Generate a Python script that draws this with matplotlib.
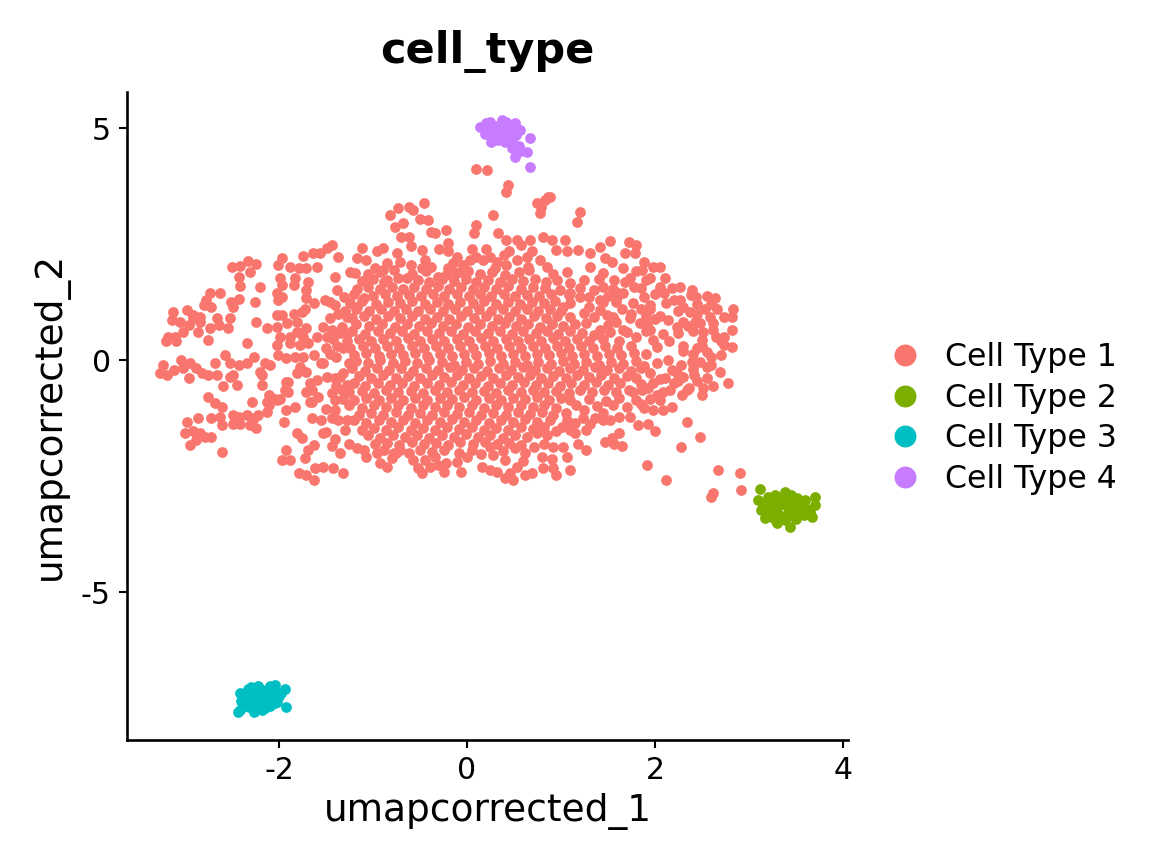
import matplotlib
matplotlib.use("Agg")
import matplotlib.pyplot as plt
from matplotlib.lines import Line2D
import numpy as np

# ---------------- data ----------------
CATEGORIES = ["Cell Type 1", "Cell Type 2", "Cell Type 3", "Cell Type 4"]
COLORS = ["#F8766D", "#7CAE00", "#00BFC4", "#C77CFF"]
X_TICKS = [-2, 0, 2, 4]
Y_TICKS = [-5, 0, 5]
X_LABEL = "umapcorrected_1"
Y_LABEL = "umapcorrected_2"
TITLE = "cell_type"

CELL_TYPE_1 = [
    # upper-left region
    (-1.44,2.48),(-1.49,2.41),(-1.64,2.31),(-1.56,2.31),(-1.74,2.24),(-1.37,2.23),
    (-2.50,2.01),(-2.41,2.03),(-2.33,2.14),(-2.24,2.08),(-2.31,1.90),(-2.43,1.78),(-2.41,1.59),
    (-1.97,2.19),(-2.01,2.05),(-1.88,2.01),(-1.79,1.98),(-1.71,1.98),(-1.60,2.01),
    (-1.99,1.76),(-1.83,1.76),(-1.69,1.69),(-1.71,1.51),(-1.97,1.62),(-1.84,1.62),
    (-1.40,1.80),(-1.38,1.51),(-1.31,1.36),(-1.24,1.90),(-2.20,1.58),(-2.26,1.24),
    (-2.51,1.26),(-2.43,1.31),(-2.49,1.15),(-2.73,1.44),(-2.63,1.44),(-2.78,1.29),(-2.80,1.19),
    (-2.72,1.15),(-2.84,0.93),(-2.91,0.97),(-2.98,1.08),(-3.13,1.04),(-3.14,0.86),(-3.05,0.83),
    (-2.96,0.75),(-2.84,0.83),(-2.91,0.90),(-3.18,0.50),(-3.11,0.50),(-3.02,0.61),(-2.86,0.61),
    (-2.73,0.68),(-2.64,0.75),(-2.66,0.90),(-2.52,0.90),(-2.54,0.68),(-2.24,0.83),
    (-2.02,0.97),(-1.97,0.97),(-1.84,1.00),(-1.75,1.04),(-1.81,0.83),(-1.91,0.79),(-2.02,0.72),
    (-2.13,0.68),(-1.99,0.50),(-1.81,0.61),(-1.71,0.68),(-1.74,0.50),(-1.88,0.50),
    (-2.02,1.44),(-1.97,1.36),(-2.01,1.29),(-1.71,1.33),(-1.63,1.22),(-1.72,1.11),
    (-1.46,1.26),(-1.51,1.29),(-1.40,1.19),(-1.37,1.00),(-1.46,0.90),(-1.53,0.72),(-1.44,0.65),
    (-1.33,0.72),(-1.28,0.93),(-1.28,0.57),(-1.60,0.50),(-1.49,0.50),
    # lower-left region
    (-3.23,-0.11),(-3.27,-0.29),(-3.19,-0.32),(-3.12,-0.22),(-3.04,0.00),(-3.02,-0.18),
    (-2.95,-0.07),(-2.96,-0.39),(-2.88,-0.18),(-2.82,-0.29),(-2.75,-0.32),
    (-2.68,-0.07),(-2.57,0.11),(-2.52,-0.07),(-2.43,-0.11),(-2.34,-0.07),(-2.27,0.07),
    (-2.66,-0.32),(-2.52,-0.36),(-2.59,-0.57),(-2.45,-0.54),(-2.49,-0.32),
    (-2.34,0.36),(-2.75,-0.79),(-2.68,-0.93),(-2.61,-1.01),(-2.29,-0.90),(-2.13,-0.90),
    (-2.11,-0.75),(-2.04,-0.83),(-1.99,-0.83),(-2.15,-0.07),(-2.10,-0.11),(-2.18,-0.32),
    (-2.18,-0.54),(-2.13,-1.11),
    (-2.98,-1.33),(-2.86,-1.26),(-2.72,-1.26),(-2.63,-1.22),(-2.61,-1.40),(-2.49,-1.19),
    (-2.43,-1.22),(-2.34,-1.19),(-2.27,-1.26),(-2.22,-1.19),(-2.24,-1.47),(-2.31,-1.40),
    (-2.41,-1.37),(-2.49,-1.37),
    (-3.00,-1.58),(-2.95,-1.83),(-2.88,-1.72),(-2.84,-1.58),(-2.79,-1.65),(-2.72,-1.65),
    (-2.91,-1.54),(-2.61,-1.98),
    (-1.92,-1.94),(-1.97,-2.16),(-1.88,-2.16),(-1.79,-2.44),(-1.71,-2.48),(-1.62,-2.33),
    (-1.53,-2.30),(-1.43,-2.33),(-1.32,-2.44),(-1.63,-2.59),(-1.72,-2.12),(-1.69,-1.94),
    (-1.63,-1.83),(-1.44,-1.85),
    (-1.95,-1.33),(-1.92,-1.08),(-1.83,-1.01),(-1.81,-1.58),(-1.76,-1.69),(-1.65,-1.26),
    (-1.55,-1.29),(-1.53,-1.58),(-1.65,-0.90),(-1.94,-0.65),(-1.90,-0.47),(-2.02,-0.86),
    (-2.10,-0.79),(-2.11,-0.97),(-2.20,-0.25),
    (-2.02,0.32),(-1.88,0.36),(-1.78,0.32),(-1.69,0.36),(-2.01,0.11),(-1.92,0.04),(-1.83,0.07),
    (-1.74,0.07),(-1.63,0.11),(-1.78,-0.14),(-1.71,-0.25),(-1.81,-0.29),(-1.67,-0.50),
    (-1.60,-0.43),(-1.53,-0.07),(-1.49,-0.36),(-1.40,-0.39),(-1.35,-0.36),(-1.39,-0.57),
    (-1.33,-0.65),(-1.28,-0.54),(-1.32,-0.29),(-1.39,0.07),(-1.32,0.25),(-1.26,-0.07),
    (-1.44,-0.72),(-1.40,-0.86),(-1.32,-0.83),(-1.40,-1.08),(-1.28,-1.29),(-1.37,-1.29),
    (-1.44,-1.26),(-1.65,-0.65),(-1.71,-0.68),(-1.67,-0.90),(-1.90,-0.68),(-1.92,-0.47),
    (-3.20,0.42),(-3.10,0.42),(-2.75,0.43),
    (-1.50,-1.55),(-1.40,-1.70),(-1.30,-1.50),(-1.35,-2.00),(-1.25,-1.80),(-1.50,-1.05),(-1.58,-0.80),
    # top region
    (0.42,3.63),(0.44,3.78),(0.74,3.38),(0.79,3.30),(0.78,3.16),(0.28,3.13),
    (0.83,3.45),(0.86,3.51),(0.10,4.11),(0.21,4.09),
    (-0.82,3.13),(-0.73,3.27),(-0.62,3.30),(-0.57,3.23),(-0.46,3.39),(-0.77,2.87),(-0.68,2.95),
    (-0.50,3.05),(-0.41,3.02),(-0.70,2.66),(-0.62,2.66),(-0.38,2.77),(-0.34,2.73),(-0.22,2.80),
    (0.10,2.91),(0.07,2.73),(0.33,2.73),(0.42,2.59),(0.53,2.59),(0.67,2.59),(0.81,2.66),(0.58,2.48),
    (-1.12,2.41),(-1.17,2.19),(-1.07,2.16),(-0.96,2.34),(-0.89,2.41),(-0.98,1.98),(-0.89,1.94),
    (-1.19,1.87),(-1.17,1.54),(-1.03,1.76),(-1.10,1.33),(-1.17,1.15),(-0.74,2.30),(-0.71,2.12),
    (-0.78,1.94),(-0.85,1.72),(-0.73,1.76),(-0.64,1.76),
    (-0.48,2.37),(-0.45,2.16),(-0.48,1.98),(-0.38,2.01),(-0.31,1.80),(-0.22,1.83),(-0.20,2.52),
    (-0.20,2.34),(-0.11,2.23),(-0.04,2.05),(-0.07,1.90),(0.03,2.16),(0.10,2.23),(0.17,2.16),
    (0.24,2.23),(0.32,2.12),(0.39,2.26),(0.42,2.05),(0.53,2.16),(0.64,2.23),(0.69,2.34),
    (0.78,2.16),(0.85,2.01),
    (-0.60,2.45),(-0.30,2.40),(-0.15,2.10),(0.20,2.40),(0.45,2.35),(0.30,1.98),(-0.20,1.98),
    (0.65,2.00),(-0.85,2.10),(-0.60,2.05),(0.05,2.40),
    # upper-right region
    (0.88,3.52),(1.20,3.20),(1.17,2.97),
    (0.90,2.59),(1.04,2.59),(1.06,2.34),(0.95,2.37),(1.18,2.37),(1.31,2.30),(1.41,2.44),
    (1.52,2.57),(1.72,2.55),(1.80,2.48),(1.79,2.30),(1.68,2.30),(1.47,2.19),(1.54,2.12),(1.31,2.01),
    (1.88,2.12),(1.98,2.01),(2.05,2.01),(1.86,1.94),(1.95,1.76),(2.11,1.76),(2.05,1.58),
    (1.73,1.76),(1.66,1.98),
    (2.27,1.58),(2.39,1.51),(2.44,1.36),(2.55,1.38),(2.64,1.33),(2.83,1.11),(2.82,0.93),
    (2.73,0.93),(2.66,1.11),(2.53,1.11),(2.37,1.04),(2.43,0.83),(2.30,0.83),(2.27,1.29),(2.20,1.29),
    (2.82,0.65),(2.73,0.50),(2.62,0.65),(2.51,0.61),(2.48,0.79),(2.23,0.72),(2.14,0.86),
    (2.09,0.57),(1.95,0.65),(1.84,0.79),(1.77,1.22),(1.88,1.36),(1.95,1.18),(1.66,1.44),
    (1.61,1.44),(1.56,1.72),(1.45,1.58),(1.35,1.51),(1.41,1.29),(1.24,1.72),(1.10,1.65),
    (0.99,1.51),(1.20,1.36),(1.02,1.15),(1.10,0.93),(1.24,1.01),(1.35,0.93),(1.49,0.97),
    (1.41,0.65),(1.27,0.79),(1.59,0.83),(1.73,0.90),(1.66,0.65),(1.80,0.50),
    (1.30,1.15),(1.45,1.25),(1.65,1.10),(1.75,1.00),(1.50,0.75),(1.35,0.55),(1.70,0.60),
    (1.60,1.35),(1.10,1.45),(1.30,1.35),(1.85,1.55),(2.10,1.45),(2.30,1.15),(2.45,1.00),
    (2.60,1.20),(2.05,0.95),(1.95,1.10),
    # lower-right region
    (2.82,0.29),(2.73,0.32),(2.60,0.07),(2.69,-0.25),(2.78,-0.50),(2.51,-0.61),(2.50,-0.75),
    (2.39,-0.04),(2.41,-0.32),(2.36,-0.61),(2.29,-0.75),(2.18,-1.01),(2.09,-1.08),(1.98,-1.08),
    (1.88,-1.04),(2.18,-0.22),(2.11,-0.39),(1.98,-0.50),(1.95,-0.29),(2.02,-0.07),(2.14,0.00),
    (2.34,-1.33),(2.48,-1.65),(2.28,-1.87),(2.00,-1.54),(1.91,-2.26),(2.12,-2.59),(2.67,-2.37),
    (2.90,-2.44),(2.92,-2.80),(2.62,-2.86),(2.60,-2.95),
    (1.82,-1.40),(1.93,-1.37),(1.73,-1.22),(1.62,-1.22),(1.52,-1.29),(1.45,-1.29),(1.36,-1.26),
    (1.62,-1.58),(1.54,-1.69),(1.47,-1.76),(1.56,-1.80),(1.65,-1.85),(1.27,-1.51),(1.31,-1.37),
    (1.23,-1.26),(1.25,-1.08),(1.16,-0.97),(1.10,-0.86),(1.06,-1.29),(1.01,-1.44),(0.95,-1.54),
    (0.92,-1.87),(1.02,-1.87),(1.06,-2.08),(1.10,-2.37),(0.92,-2.33),(0.95,-2.48),(1.27,-1.94),
    (1.18,-1.80),(1.15,-1.58),(1.10,-1.51),
    (1.72,-0.65),(1.77,-0.68),(1.86,-0.65),(1.93,-0.61),(2.02,-0.75),(2.09,-0.68),(1.95,-0.83),
    (2.05,-0.86),(2.16,-0.65),(2.23,-0.29),(2.28,-0.11),(2.30,-0.36),(2.34,-0.65),
    (2.30,0.20),(2.50,0.30),(2.65,0.50),(2.60,-0.10),(2.25,-0.45),(2.45,-0.45),(2.70,0.10),
    # bottom edge
    (-1.17,-1.90),(-1.10,-1.94),(-1.07,-2.08),(-0.96,-2.01),(-0.93,-2.23),(-0.85,-2.30),
    (-0.78,-2.01),(-0.71,-1.94),(-0.62,-2.01),(-0.57,-2.16),(-0.52,-2.33),(-0.48,-2.44),
    (-0.39,-2.30),(-0.34,-2.08),(-0.31,-2.26),(-0.24,-2.41),(-0.22,-2.23),(-0.11,-2.19),
    (-0.06,-2.41),(0.16,-2.30),(0.24,-1.87),(0.28,-2.05),(0.24,-2.37),(0.32,-2.41),(0.40,-2.55),
    (0.49,-2.59),(0.46,-2.44),(0.53,-2.30),(0.51,-1.90),(0.62,-2.48),(0.69,-2.44),(0.81,-2.33),
    (0.80,-2.08),(0.71,-1.87),(0.74,-1.58),
    # dense core
    (-1.05,1.86),(-0.93,1.90),(-0.58,1.85),(-0.44,1.91),(-0.12,1.87),(0.01,1.92),(0.14,1.85),
    (0.27,1.90),(0.40,1.84),(0.55,1.89),(0.66,1.93),(0.92,1.86),(1.06,1.90),(1.45,1.88),(1.80,1.92),
    (-1.12,1.70),(-1.00,1.74),(-0.88,1.68),(-0.52,1.73),(-0.40,1.69),(-0.27,1.74),(-0.14,1.70),
    (-0.01,1.75),(0.10,1.68),(0.22,1.73),(0.35,1.69),(0.48,1.74),(0.60,1.70),(0.72,1.75),
    (0.84,1.68),(0.96,1.73),(1.40,1.74),(1.68,1.69),(1.90,1.72),
    (-1.05,1.58),(-0.93,1.53),(-0.80,1.57),(-0.68,1.52),(-0.56,1.58),(-0.44,1.54),(-0.31,1.59),
    (-0.19,1.53),(-0.06,1.57),(0.06,1.52),(0.18,1.58),(0.31,1.54),(0.44,1.59),(0.57,1.53),
    (0.70,1.57),(0.83,1.55),(1.20,1.56),(1.55,1.54),(1.78,1.57),(2.18,1.55),
    (-1.20,1.42),(-1.00,1.38),(-0.87,1.43),(-0.74,1.39),(-0.62,1.41),(-0.49,1.37),(-0.36,1.43),
    (-0.24,1.38),(-0.11,1.42),(0.02,1.37),(0.14,1.43),(0.26,1.39),(0.39,1.42),(0.51,1.37),
    (0.64,1.41),(0.77,1.38),(0.89,1.43),(1.08,1.40),(1.50,1.38),(2.00,1.42),(2.38,1.40),
    (-1.24,1.22),(-1.12,1.27),(-0.97,1.21),(-0.84,1.26),(-0.71,1.22),(-0.58,1.27),(-0.45,1.21),
    (-0.32,1.25),(-0.20,1.20),(-0.07,1.26),(0.06,1.22),(0.18,1.27),(0.31,1.21),(0.44,1.25),
    (0.56,1.20),(0.69,1.26),(0.82,1.22),(0.94,1.27),(1.10,1.22),(1.58,1.24),(2.12,1.22),(2.45,1.20),
    (-1.30,1.06),(-1.18,1.10),(-1.04,1.05),(-0.91,1.11),(-0.78,1.06),(-0.65,1.10),(-0.52,1.05),
    (-0.39,1.11),(-0.26,1.06),(-0.13,1.10),(0.00,1.05),(0.13,1.11),(0.26,1.06),(0.38,1.10),
    (0.51,1.05),(0.64,1.11),(0.76,1.06),(0.88,1.10),(1.00,1.05),(1.42,1.08),(1.85,1.10),(2.25,1.06),
    (-1.22,0.90),(-1.10,0.95),(-0.97,0.89),(-0.84,0.94),(-0.71,0.90),(-0.58,0.95),(-0.45,0.89),
    (-0.32,0.93),(-0.19,0.88),(-0.06,0.94),(0.07,0.90),(0.20,0.95),(0.33,0.89),(0.45,0.93),
    (0.58,0.88),(0.71,0.94),(0.84,0.90),(0.96,0.95),(1.55,0.92),(1.90,0.94),(2.00,0.88),(2.58,0.92),
    (-1.18,0.78),(-1.04,0.73),(-0.90,0.77),(-0.77,0.72),(-0.64,0.78),(-0.51,0.74),(-0.38,0.79),
    (-0.25,0.73),(-0.12,0.77),(0.01,0.72),(0.14,0.78),(0.27,0.74),(0.40,0.79),(0.52,0.73),
    (0.65,0.77),(0.78,0.72),(0.90,0.78),(1.02,0.74),(1.15,0.78),(1.92,0.76),(2.35,0.74),(2.62,0.80),
    (-1.35,0.58),(-1.22,0.62),(-1.08,0.57),(-0.95,0.63),(-0.82,0.58),(-0.69,0.62),(-0.56,0.57),
    (-0.43,0.63),(-0.30,0.58),(-0.17,0.62),(-0.04,0.57),(0.09,0.63),(0.22,0.58),(0.35,0.62),
    (0.48,0.57),(0.60,0.63),(0.73,0.58),(0.85,0.62),(0.97,0.57),(1.10,0.62),(1.22,0.58),
    (1.52,0.60),(1.90,0.62),(2.25,0.58),(2.40,0.62),
    (-1.42,0.46),(-1.28,0.41),(-1.15,0.45),(-1.02,0.40),(-0.89,0.46),(-0.76,0.42),(-0.63,0.47),
    (-0.50,0.41),(-0.37,0.45),(-0.24,0.40),(-0.11,0.46),(0.02,0.42),(0.15,0.47),(0.28,0.41),
    (0.41,0.45),(0.54,0.40),(0.66,0.46),(0.79,0.42),(0.92,0.47),(1.04,0.41),(1.17,0.45),
    (1.30,0.40),(1.45,0.46),(1.62,0.42),(1.98,0.44),(2.15,0.40),(2.50,0.44),(2.70,0.40),
    (-1.50,0.26),(-1.38,0.30),(-1.24,0.25),(-1.11,0.31),(-0.98,0.26),(-0.85,0.30),(-0.72,0.25),
    (-0.59,0.31),(-0.46,0.26),(-0.33,0.30),(-0.20,0.25),(-0.07,0.31),(0.06,0.26),(0.19,0.30),
    (0.32,0.25),(0.45,0.31),(0.58,0.26),(0.70,0.30),(0.83,0.25),(0.96,0.31),(1.08,0.26),
    (1.21,0.30),(1.34,0.25),(1.47,0.31),(1.60,0.26),(1.75,0.30),(2.02,0.27),(2.30,0.30),(2.45,0.25),
    (-1.46,0.14),(-1.20,0.10),(-1.07,0.15),(-0.94,0.09),(-0.81,0.14),(-0.68,0.10),(-0.55,0.15),
    (-0.42,0.09),(-0.29,0.13),(-0.16,0.08),(-0.03,0.14),(0.10,0.10),(0.23,0.15),(0.36,0.09),
    (0.49,0.13),(0.62,0.08),(0.74,0.14),(0.87,0.10),(1.00,0.15),(1.12,0.09),(1.25,0.13),
    (1.38,0.08),(1.51,0.14),(1.64,0.10),(1.78,0.15),(1.90,0.12),(2.40,0.12),(2.55,0.18),
    (-1.55,-0.06),(-1.18,-0.02),(-1.05,-0.07),(-0.92,-0.01),(-0.79,-0.06),(-0.66,-0.02),
    (-0.53,-0.07),(-0.40,-0.01),(-0.27,-0.05),(-0.14,-0.10),(-0.01,-0.04),(0.12,-0.08),
    (0.25,-0.03),(0.38,-0.09),(0.51,-0.05),(0.64,-0.10),(0.76,-0.04),(0.89,-0.08),(1.02,-0.03),
    (1.14,-0.09),(1.27,-0.05),(1.40,-0.10),(1.53,-0.04),(1.66,-0.08),(1.80,-0.02),(1.88,-0.12),(2.48,-0.05),
    (-1.22,-0.18),(-1.09,-0.23),(-0.96,-0.17),(-0.83,-0.22),(-0.70,-0.18),(-0.57,-0.23),
    (-0.44,-0.17),(-0.31,-0.21),(-0.18,-0.16),(-0.05,-0.22),(0.08,-0.18),(0.21,-0.23),
    (0.34,-0.17),(0.47,-0.21),(0.60,-0.16),(0.72,-0.22),(0.85,-0.18),(0.98,-0.23),(1.10,-0.17),
    (1.23,-0.21),(1.36,-0.16),(1.49,-0.22),(1.62,-0.18),(1.75,-0.23),(1.85,-0.18),(2.40,-0.20),(2.55,-0.15),
    (-1.15,-0.34),(-1.02,-0.39),(-0.89,-0.33),(-0.76,-0.38),(-0.63,-0.34),(-0.50,-0.39),
    (-0.37,-0.33),(-0.24,-0.37),(-0.11,-0.32),(0.02,-0.38),(0.15,-0.34),(0.28,-0.39),
    (0.41,-0.33),(0.54,-0.37),(0.67,-0.32),(0.79,-0.38),(0.92,-0.34),(1.05,-0.39),(1.17,-0.33),
    (1.30,-0.37),(1.43,-0.32),(1.56,-0.38),(1.70,-0.34),(1.80,-0.38),(2.05,-0.40),(2.55,-0.38),
    (-1.20,-0.50),(-1.08,-0.55),(-0.95,-0.49),(-0.82,-0.54),(-0.69,-0.50),(-0.56,-0.55),
    (-0.43,-0.49),(-0.30,-0.53),(-0.17,-0.48),(-0.04,-0.54),(0.09,-0.50),(0.22,-0.55),
    (0.35,-0.49),(0.48,-0.53),(0.61,-0.48),(0.73,-0.54),(0.86,-0.50),(0.99,-0.55),(1.11,-0.49),
    (1.24,-0.53),(1.37,-0.48),(1.50,-0.54),(1.63,-0.50),(1.85,-0.52),(2.20,-0.50),(2.62,-0.55),
    (-1.25,-0.70),(-1.12,-0.66),(-0.99,-0.71),(-0.86,-0.65),(-0.73,-0.70),(-0.60,-0.66),
    (-0.47,-0.71),(-0.34,-0.65),(-0.21,-0.69),(-0.08,-0.64),(0.05,-0.70),(0.18,-0.66),
    (0.31,-0.71),(0.44,-0.65),(0.57,-0.69),(0.70,-0.64),(0.82,-0.70),(0.95,-0.66),(1.08,-0.71),
    (1.20,-0.65),(1.33,-0.69),(1.46,-0.64),(1.58,-0.70),
    (-1.20,-0.86),(-1.07,-0.82),(-0.94,-0.87),(-0.81,-0.81),(-0.68,-0.86),(-0.55,-0.82),
    (-0.42,-0.87),(-0.29,-0.81),(-0.16,-0.85),(-0.03,-0.80),(0.10,-0.86),(0.23,-0.82),
    (0.36,-0.87),(0.49,-0.81),(0.62,-0.85),(0.75,-0.80),(0.87,-0.86),(1.00,-0.82),(1.30,-0.84),
    (1.48,-0.88),(1.62,-0.82),(1.80,-0.86),
    (-1.25,-0.98),(-1.12,-1.03),(-0.99,-0.97),(-0.86,-1.02),(-0.73,-0.98),(-0.60,-1.03),
    (-0.47,-0.97),(-0.34,-1.01),(-0.21,-0.96),(-0.08,-1.02),(0.05,-0.98),(0.18,-1.03),
    (0.31,-0.97),(0.44,-1.01),(0.57,-0.96),(0.70,-1.02),(0.82,-0.98),(0.95,-1.03),(1.38,-1.00),
    (1.55,-0.98),(1.70,-1.02),(1.85,-0.95),
    (-1.15,-1.18),(-1.02,-1.14),(-0.89,-1.19),(-0.76,-1.13),(-0.63,-1.18),(-0.50,-1.14),
    (-0.37,-1.19),(-0.24,-1.13),(-0.11,-1.17),(0.02,-1.12),(0.15,-1.18),(0.28,-1.14),
    (0.41,-1.19),(0.54,-1.13),(0.67,-1.17),(0.80,-1.12),(0.92,-1.18),(1.05,-1.14),(1.45,-1.15),
    (-1.20,-1.30),(-1.07,-1.35),(-0.94,-1.29),(-0.81,-1.34),(-0.68,-1.30),(-0.55,-1.35),
    (-0.42,-1.29),(-0.29,-1.33),(-0.16,-1.28),(-0.03,-1.34),(0.10,-1.30),(0.23,-1.35),
    (0.36,-1.29),(0.49,-1.33),(0.62,-1.28),(0.75,-1.34),(0.88,-1.30),(1.15,-1.35),
    (-1.12,-1.50),(-0.99,-1.46),(-0.86,-1.51),(-0.73,-1.45),(-0.60,-1.50),(-0.47,-1.46),
    (-0.34,-1.51),(-0.21,-1.45),(-0.08,-1.49),(0.05,-1.44),(0.18,-1.50),(0.31,-1.46),
    (0.44,-1.51),(0.57,-1.45),(0.70,-1.49),(0.82,-1.44),
    (-1.05,-1.62),(-0.92,-1.67),(-0.79,-1.61),(-0.66,-1.66),(-0.53,-1.62),(-0.40,-1.67),
    (-0.27,-1.61),(-0.14,-1.65),(-0.01,-1.60),(0.12,-1.66),(0.25,-1.62),(0.38,-1.67),
    (0.51,-1.61),(0.64,-1.65),(0.85,-1.62),
    (-0.98,-1.82),(-0.85,-1.78),(-0.72,-1.83),(-0.59,-1.77),(-0.46,-1.82),(-0.33,-1.78),
    (-0.20,-1.83),(-0.07,-1.77),(0.06,-1.81),(0.19,-1.76),(0.32,-1.82),(0.45,-1.78),
    (0.58,-1.83),(0.82,-1.80),
    (-0.88,-1.95),(-0.75,-2.00),(-0.50,-1.94),(-0.37,-1.99),(-0.24,-1.95),(-0.08,-2.00),
    (0.05,-1.94),(0.15,-2.02),(0.38,-1.96),(0.62,-2.00),
    (-0.80,-2.12),(-0.45,-2.15),(0.00,-2.10),(0.40,-2.15),(0.60,-2.18),(0.90,-2.14),
]

CELL_TYPE_2 = [
    (3.12,-2.78),(3.10,-3.02),(3.38,-2.85),(3.51,-2.98),(3.70,-2.95),(3.70,-3.13),(3.67,-3.38),
    (3.44,-3.59),(3.29,-3.48),(3.17,-3.41),(3.13,-3.23),(3.20,-2.95),(3.28,-3.05),(3.35,-2.98),
    (3.45,-3.05),(3.55,-3.10),(3.62,-3.22),(3.20,-3.15),(3.30,-3.20),(3.40,-3.15),(3.50,-3.25),
    (3.58,-3.35),(3.22,-3.30),(3.32,-3.35),(3.42,-3.30),(3.50,-3.42),(3.38,-3.45),(3.25,-3.38),
    (3.15,-3.10),(3.45,-2.92),(3.60,-3.02),(3.35,-3.10),(3.28,-2.90),(3.48,-3.18),(3.56,-3.30),
    (3.18,-3.25),(3.40,-3.38),(3.30,-3.52),(3.65,-3.28),(3.22,-3.05),
]

CELL_TYPE_3 = [
    (-2.41,-7.54),(-2.44,-7.58),(-2.41,-7.18),(-2.33,-7.08),(-2.22,-7.03),(-2.04,-7.00),
    (-1.94,-7.08),(-1.92,-7.47),(-2.04,-7.40),(-2.15,-7.51),(-2.27,-7.58),(-2.38,-7.40),
    (-2.35,-7.25),(-2.28,-7.15),(-2.20,-7.20),(-2.12,-7.10),(-2.05,-7.15),(-2.00,-7.25),
    (-2.30,-7.35),(-2.22,-7.30),(-2.15,-7.35),(-2.08,-7.30),(-2.25,-7.45),(-2.18,-7.42),
    (-2.10,-7.45),(-2.38,-7.28),(-2.32,-7.48),(-1.98,-7.18),(-2.12,-7.22),(-2.27,-7.22),
    (-2.40,-7.35),(-2.20,-7.10),(-2.30,-7.05),(-2.10,-7.02),(-2.02,-7.38),(-2.18,-7.55),
]

CELL_TYPE_4 = [
    (0.14,5.03),(0.24,5.14),(0.37,5.17),(0.51,5.11),(0.56,4.96),(0.67,4.78),(0.64,4.49),
    (0.51,4.38),(0.48,4.56),(0.40,4.70),(0.26,4.70),(0.19,4.88),(0.67,4.17),
    (0.22,5.00),(0.30,5.05),(0.38,5.08),(0.45,5.02),(0.30,4.92),(0.40,4.95),(0.48,4.90),
    (0.35,4.82),(0.44,4.80),(0.52,4.85),(0.28,4.82),(0.48,4.70),(0.55,4.62),(0.58,4.50),
    (0.42,5.12),(0.20,5.10),(0.33,4.75),(0.52,5.00),
]

ALL_POINTS = [CELL_TYPE_1, CELL_TYPE_2, CELL_TYPE_3, CELL_TYPE_4]

# ---------------- figure ----------------
plt.rcParams['font.family'] = ['DejaVu Sans']
fig = plt.figure(figsize=(11.52, 8.65), dpi=100)
ax = fig.add_axes([0.1102, 0.1445, 0.7361 - 0.1102, 0.8936 - 0.1445])

for pts, col in zip(ALL_POINTS, COLORS):
    arr = np.array(pts)
    ax.scatter(arr[:, 0], arr[:, 1], s=60, c=col, linewidths=0)

ax.set_xlim(-3.617, 4.053)
ax.set_ylim(-8.19, 5.776)
ax.set_xticks(X_TICKS)
ax.set_xticklabels([str(t) for t in X_TICKS])
ax.set_yticks(Y_TICKS)
ax.set_yticklabels([str(t) for t in Y_TICKS])

for side in ["top", "right"]:
    ax.spines[side].set_visible(False)
for side in ["left", "bottom"]:
    ax.spines[side].set_linewidth(1.9)
ax.tick_params(axis="both", length=5.5, width=1.5, labelsize=21.5, pad=6, colors="black")

ax.set_xlabel(X_LABEL, fontsize=27, labelpad=6)
ax.set_ylabel(Y_LABEL, fontsize=27, labelpad=9)
ax.set_title(TITLE, fontsize=31, fontweight="bold", pad=21)

handles = [Line2D([0], [0], marker="o", linestyle="none", markersize=15.8,
                  markerfacecolor=c, markeredgewidth=0) for c in COLORS]
fig.legend(handles, CATEGORIES, loc="center left", bbox_to_anchor=(0.775, 0.516),
           frameon=False, fontsize=22.8, handlelength=0.75, handletextpad=0.9,
           labelspacing=0.30, borderpad=0, borderaxespad=0)

fig.savefig("out.png", dpi=100)
